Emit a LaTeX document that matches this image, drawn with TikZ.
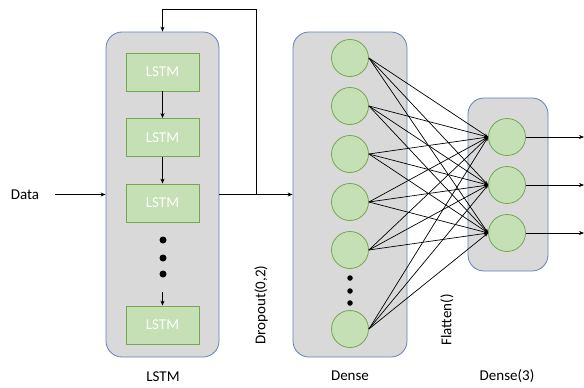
\documentclass[tikz,border=0pt]{standalone}
\usepackage{fontspec}
\setmainfont{Carlito}
\usepackage{tikz}
\usetikzlibrary{positioning}
\usetikzlibrary{arrows.meta}
\definecolor{layer_gray}{RGB}{217,217,217}
\definecolor{layer_blue}{RGB}{98,128,188}
\definecolor{cell_green}{RGB}{197,224,180}
\definecolor{cell_edge}{RGB}{118,166,80}
\tikzset{my_net/.style={x=1pt,y=-1pt,>={Stealth[length=5pt,width=4pt]},line width=0.8pt,font=\fontsize{15}{18}\selectfont}}
\tikzset{my_layer/.style={draw=layer_blue, fill=layer_gray, rounded corners=16pt, line width=0.8pt}}
\tikzset{my_cell/.style={draw=cell_edge, fill=cell_green, text=white, minimum width=73pt, minimum height=38pt}}
\tikzset{my_neuron/.style={circle, draw=cell_edge, fill=cell_green, minimum size=37pt, inner sep=0pt}}
\tikzset{my_dot/.style={circle, fill=black, inner sep=0pt}}
\tikzset{my_link/.style={->,>={Stealth[length=4pt,width=3pt]},line width=0.7pt}}

\begin{document}
\begin{tikzpicture}[my_net]
    \useasboundingbox (0,0) rectangle (584,388);
    %\draw[help lines] (0,0) grid (584,388);
    % layer boxes
    \node[my_layer, minimum width=113pt, minimum height=325pt] (lstm_layer) at (162.5,194.5) {};
    \node[my_layer, minimum width=114pt, minimum height=325pt] (dense_layer) at (350,194.5) {};
    \node[my_layer, minimum width=80pt, minimum height=173pt] (out_layer) at (508,184.5) {};

    % lstm cells
    \node[my_cell] (c1) at (162.5,72) {LSTM};
    \node[my_cell] (c2) at (162.5,137.5) {LSTM};
    \node[my_cell] (c3) at (162.5,203) {LSTM};
    \node[my_cell] (c4) at (162.5,325) {LSTM};
    \node[my_dot, minimum size=7pt] (ld1) at (163,240) {};
    \node[my_dot, minimum size=7pt] (ld2) at (163,258) {};
    \node[my_dot, minimum size=7pt] (ld3) at (163,274) {};
    \coordinate (ld_end) at (162.5,292);

    % dense neurons
    \node[my_neuron] (d1) at (350,58) {};
    \node[my_neuron] (d2) at (350,106) {};
    \node[my_neuron] (d3) at (350,154) {};
    \node[my_neuron] (d4) at (350,202) {};
    \node[my_neuron] (d5) at (350,250) {};
    \node[my_neuron] (d6) at (350,329) {};
    \node[my_dot, minimum size=5.5pt] (dd1) at (350,278) {};
    \node[my_dot, minimum size=5.5pt] (dd2) at (350,291) {};
    \node[my_dot, minimum size=5.5pt] (dd3) at (350,303) {};

    % output neurons
    \node[my_neuron] (o1) at (507,137) {};
    \node[my_neuron] (o2) at (507,185) {};
    \node[my_neuron] (o3) at (507,233) {};
    \coordinate (y1) at (584,137);
    \coordinate (y2) at (584,185);
    \coordinate (y3) at (584,233);

    % labels
    \node (data) at (25,194.5) {Data};
    \node (lstm_label) at (163,377) {LSTM};
    \node (dense_label) at (350,376) {Dense};
    \node (out_label) at (507,376) {Dense(3)};
    \node[rotate=90] (dropout) at (261,305) {Dropout(0,2)};
    \node[rotate=90] (flatten) at (447,320) {Flatten()};

    \coordinate (split) at (256,194.5);
    \coordinate (loop_top) at (162.5,9);

    \draw[->, shorten <=12pt] (data) -- (lstm_layer.west);
    \draw[->] (lstm_layer.east) -- (dense_layer.west);
    \draw[->] (split) |- (loop_top) -- (lstm_layer.north);

    \draw[->] (c1) -- (c2);
    \draw[->] (c2) -- (c3);
    \draw[->] (ld_end) -- (c4);

    \path[my_link]
        (d1.east) edge (o1.west)
        (d1.east) edge (o2.west)
        (d1.east) edge (o3.west)
        (d2.east) edge (o1.west)
        (d2.east) edge (o2.west)
        (d2.east) edge (o3.west)
        (d3.east) edge (o1.west)
        (d3.east) edge (o2.west)
        (d3.east) edge (o3.west)
        (d4.east) edge (o1.west)
        (d4.east) edge (o2.west)
        (d4.east) edge (o3.west)
        (d5.east) edge (o1.west)
        (d5.east) edge (o2.west)
        (d5.east) edge (o3.west)
        (d6.east) edge (o1.west)
        (d6.east) edge (o2.west)
        (d6.east) edge (o3.west)
    ;

    \draw[->] (o1) -- (y1);
    \draw[->] (o2) -- (y2);
    \draw[->] (o3) -- (y3);
\end{tikzpicture}
\end{document}
